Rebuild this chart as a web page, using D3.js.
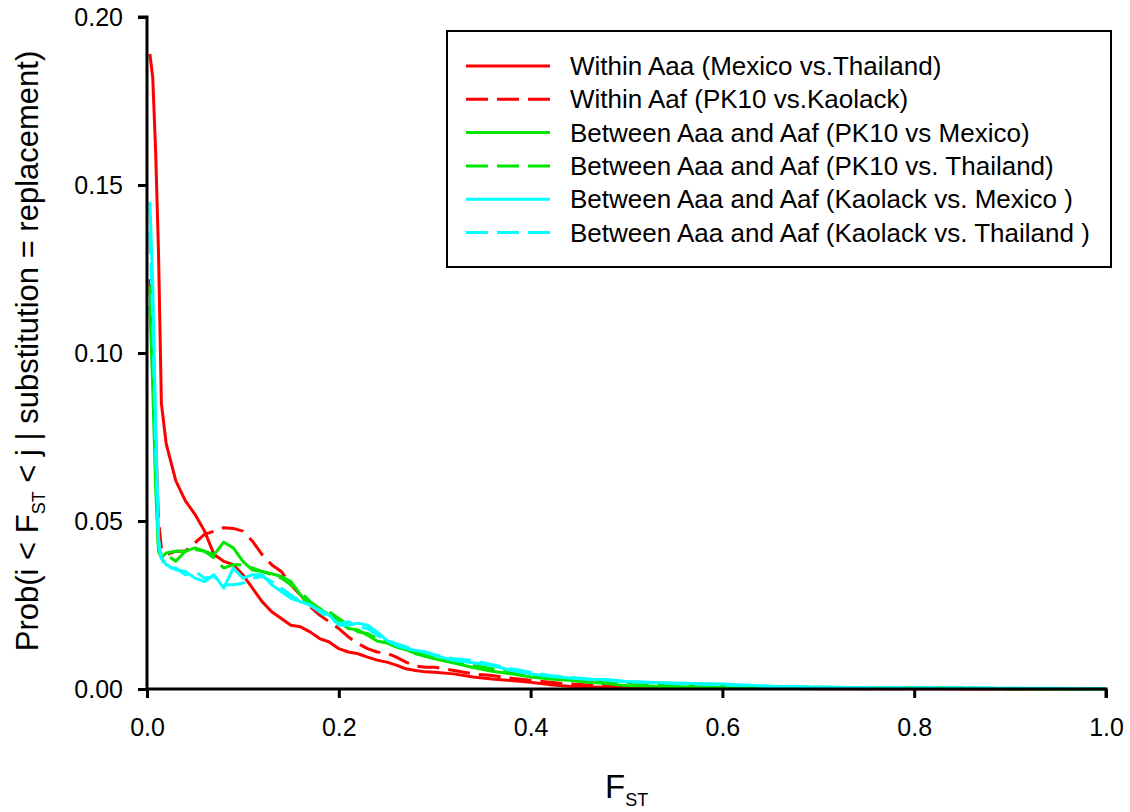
<!DOCTYPE html>
<html>
<head>
<meta charset="utf-8">
<script src="https://cdn.jsdelivr.net/npm/d3@7"></script>
<style>
  body { margin: 0; background: #fff; }
  text { font-family: "Liberation Sans", Arial, sans-serif; }
</style>
</head>
<body>
<div id="canvas"></div>
<script>
// canvas size and margins
var w = 1130;
var h = 812;
var margin = {top: 17, right: 24, bottom: 123, left: 147};
var innerWidth = w - margin.left - margin.right;
var innerHeight = h - margin.top - margin.bottom;

// F_ST bins (x values)
var fst = [0.003, 0.006, 0.009, 0.012, 0.015, 0.02, 0.03, 0.04, 0.05, 0.06, 0.07, 0.08, 0.09, 0.10,
  0.11, 0.12, 0.13, 0.14, 0.15, 0.16, 0.17, 0.18, 0.19, 0.20, 0.21, 0.22, 0.23, 0.24, 0.25, 0.26,
  0.27, 0.28, 0.29, 0.30, 0.32, 0.34, 0.36, 0.38, 0.40, 0.42, 0.44, 0.46, 0.48, 0.50, 0.55, 0.60,
  0.65, 0.70, 0.75, 0.80, 0.85, 0.90, 0.95, 1.00];

// probabilities
var aaaMexThai = [0.189, 0.182, 0.160, 0.130, 0.085, 0.073, 0.062, 0.056, 0.052, 0.047, 0.040, 0.038,
  0.037, 0.034, 0.030, 0.026, 0.023, 0.021, 0.019, 0.0185, 0.017, 0.015, 0.014, 0.012, 0.011, 0.0105,
  0.0095, 0.0086, 0.008, 0.0071, 0.006, 0.0055, 0.0051, 0.005, 0.0045, 0.0036, 0.003, 0.0025, 0.002,
  0.0013, 0.0008, 0.0006, 0.0005, 0.0004, 0.0003, 0.0002, 0.0002, 0.0001, 0.0001, 0.0001, 0.0, 0.0, 0.0, 0.0];
var aafPkKao = [0.122, 0.100, 0.075, 0.050, 0.042, 0.040, 0.041, 0.041, 0.0435, 0.046, 0.047, 0.048,
  0.0478, 0.047, 0.044, 0.040, 0.037, 0.035, 0.031, 0.028, 0.0245, 0.022, 0.020, 0.018, 0.0155, 0.0135,
  0.012, 0.011, 0.0107, 0.0095, 0.008, 0.0068, 0.0065, 0.0065, 0.0055, 0.0045, 0.004, 0.0032, 0.0026,
  0.002, 0.0015, 0.0012, 0.001, 0.0008, 0.0005, 0.0003, 0.0003, 0.0002, 0.0001, 0.0001, 0.0002, 0.0, 0.0, 0.0];
var pkMexico = [0.114, 0.090, 0.060, 0.041, 0.039, 0.0405, 0.041, 0.041, 0.042, 0.041, 0.040, 0.0437,
  0.042, 0.038, 0.0354, 0.035, 0.0343, 0.0335, 0.032, 0.028, 0.025, 0.024, 0.022, 0.020, 0.018, 0.0176,
  0.016, 0.0143, 0.0137, 0.0125, 0.0117, 0.0105, 0.0097, 0.009, 0.0077, 0.0064, 0.0053, 0.0045, 0.0036,
  0.003, 0.0026, 0.002, 0.0016, 0.001, 0.0007, 0.0005, 0.0004, 0.0003, 0.0003, 0.0004, 0.0002, 0.0001, 0.0, 0.0];
var pkThailand = [0.120, 0.095, 0.065, 0.042, 0.040, 0.040, 0.038, 0.041, 0.0415, 0.041, 0.039, 0.036,
  0.037, 0.037, 0.036, 0.035, 0.034, 0.033, 0.031, 0.029, 0.026, 0.024, 0.023, 0.021, 0.019, 0.017,
  0.0165, 0.015, 0.014, 0.0128, 0.012, 0.011, 0.010, 0.0092, 0.008, 0.007, 0.006, 0.005, 0.0042,
  0.0035, 0.003, 0.0026, 0.0022, 0.0018, 0.0012, 0.0008, 0.0007, 0.0005, 0.0004, 0.0004, 0.0003, 0.0001, 0.0, 0.0];
var kaoMexico = [0.145, 0.120, 0.080, 0.045, 0.039, 0.037, 0.0355, 0.035, 0.033, 0.032, 0.034, 0.030,
  0.036, 0.033, 0.034, 0.034, 0.031, 0.029, 0.027, 0.026, 0.025, 0.0235, 0.022, 0.019, 0.019, 0.0196,
  0.019, 0.017, 0.0145, 0.013, 0.012, 0.0115, 0.011, 0.010, 0.0085, 0.0078, 0.007, 0.0055, 0.0045,
  0.0038, 0.0033, 0.0029, 0.0028, 0.0022, 0.0018, 0.0015, 0.0008, 0.0005, 0.0004, 0.0003, 0.0003, 0.0002, 0.0002, 0.0001];
var kaoThailand = [0.136, 0.110, 0.070, 0.043, 0.039, 0.036, 0.036, 0.034, 0.035, 0.033, 0.0335, 0.031,
  0.031, 0.0315, 0.033, 0.0335, 0.032, 0.030, 0.028, 0.026, 0.025, 0.023, 0.021, 0.0195, 0.020, 0.0185,
  0.018, 0.016, 0.0145, 0.0135, 0.0125, 0.0115, 0.011, 0.0102, 0.009, 0.0085, 0.0072, 0.006, 0.005,
  0.004, 0.0035, 0.003, 0.0026, 0.0022, 0.0016, 0.0012, 0.0008, 0.0006, 0.0004, 0.0003, 0.0003, 0.0002, 0.0001, 0.0001];

var seriesNames = ["Within Aaa (Mexico vs.Thailand)", "Within Aaf (PK10 vs.Kaolack)",
  "Between Aaa and Aaf (PK10 vs Mexico)", "Between Aaa and Aaf (PK10 vs. Thailand)",
  "Between Aaa and Aaf (Kaolack vs. Mexico )", "Between Aaa and Aaf (Kaolack vs. Thailand )"];
var seriesValues = [aaaMexThai, aafPkKao, pkMexico, pkThailand, kaoMexico, kaoThailand];

var xTicks = [0, 0.2, 0.4, 0.6, 0.8, 1.0];
var yTicks = [0, 0.05, 0.10, 0.15, 0.20];

// line styles
var colors = ["#ff0000", "#ff0000", "#00e600", "#00e600", "#00ffff", "#00ffff"];
var dashes = [null, "22,9", null, "22,9", null, "22,9"];

var svg = d3.select("#canvas")
    .append("svg")
    .attr("width", w)
    .attr("height", h)
    .style("background-color", "white");

var x_scale = d3.scaleLinear()
    .domain([0, 1])
    .range([margin.left, margin.left + innerWidth]);

var y_scale = d3.scaleLinear()
    .domain([0, 0.2])
    .range([margin.top + innerHeight, margin.top]);

var data = seriesNames.map((name, i) => ({
    name: name,
    color: colors[i],
    dash: dashes[i],
    points: fst.map((f, j) => [f, seriesValues[i][j]])
}));

var line = d3.line()
    .x(d => x_scale(d[0]))
    .y(d => y_scale(d[1]));

svg.selectAll("path.series")
    .data(data)
    .join("path")
    .attr("class", "series")
    .attr("d", d => line(d.points))
    .attr("fill", "none")
    .attr("stroke", d => d.color)
    .attr("stroke-width", 3)
    .attr("stroke-dasharray", d => d.dash)
    .attr("stroke-linejoin", "round");

// axes
var xAxis = svg.append("g")
    .attr("transform", `translate(0,${margin.top + innerHeight})`)
    .call(d3.axisBottom(x_scale).tickValues(xTicks).tickFormat(d3.format(".1f")).tickSize(9).tickPadding(20));

var yAxis = svg.append("g")
    .attr("transform", `translate(${margin.left},0)`)
    .call(d3.axisLeft(y_scale).tickValues(yTicks).tickFormat(d3.format(".2f")).tickSize(9).tickPadding(15));

[xAxis, yAxis].forEach(g => {
    g.select(".domain").attr("stroke", "#000").attr("stroke-width", 3);
    g.selectAll(".tick line").attr("stroke", "#000").attr("stroke-width", 3);
    g.selectAll(".tick text")
        .attr("fill", "#000")
        .style("font-size", "25px")
        .style("font-family", "'Liberation Sans', Arial, sans-serif");
});
xAxis.select(".domain").attr("d", `M${margin.left},0H${margin.left + innerWidth}V9`);
yAxis.select(".domain").attr("d", `M-9,${margin.top}H0V${margin.top + innerHeight}`);

// axis titles
var xTitle = svg.append("text")
    .attr("x", 605)
    .attr("y", 798)
    .style("font-size", "33px");
xTitle.append("tspan").text("F");
xTitle.append("tspan").attr("dy", 8).style("font-size", "18px").text("ST");

var yTitle = svg.append("text")
    .attr("transform", "translate(38,351) rotate(-90)")
    .attr("text-anchor", "middle")
    .style("font-size", "31px");
yTitle.append("tspan").text("Prob(i < F");
yTitle.append("tspan").attr("dy", 7).style("font-size", "18px").text("ST");
yTitle.append("tspan").attr("dy", -7).text(" < j | substitution = replacement)");

// legend
var legend = svg.append("g");
legend.append("rect")
    .attr("x", 447).attr("y", 31)
    .attr("width", 664).attr("height", 236)
    .attr("fill", "white")
    .attr("stroke", "#000")
    .attr("stroke-width", 2);

var rows = legend.selectAll("g.row")
    .data(data)
    .join("g")
    .attr("class", "row")
    .attr("transform", (d, i) => `translate(0,${66 + i * 33.3})`);

rows.append("line")
    .attr("x1", 466).attr("x2", 550)
    .attr("stroke", d => d.color)
    .attr("stroke-width", 3)
    .attr("stroke-dasharray", d => d.dash);

rows.append("text")
    .attr("x", 570)
    .attr("dy", "0.35em")
    .style("font-size", "26px")
    .text(d => d.name);
</script>
</body>
</html>
